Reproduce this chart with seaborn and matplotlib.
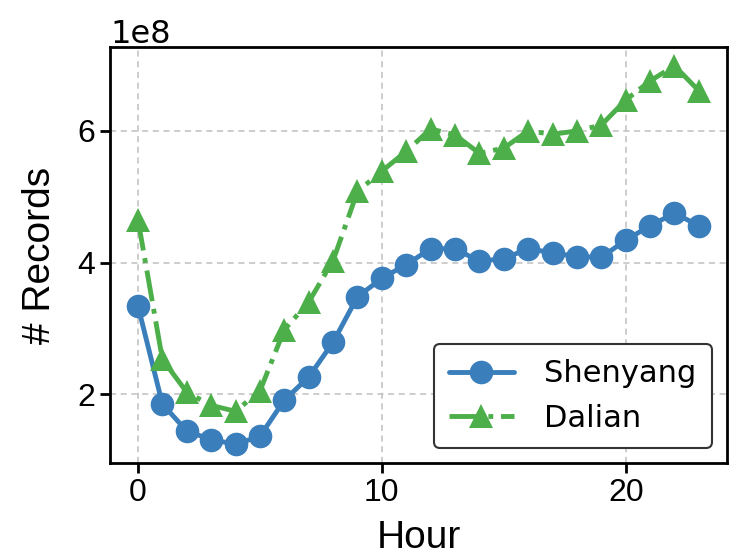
import matplotlib
matplotlib.use("Agg")
import matplotlib.pyplot as plt
import seaborn as sns
import pandas as pd

hours = list(range(24))
shenyang = [3.34, 1.85, 1.44, 1.31, 1.24, 1.36, 1.91, 2.26, 2.79, 3.48, 3.76, 3.97,
            4.21, 4.21, 4.02, 4.06, 4.21, 4.15, 4.09, 4.08, 4.34, 4.56, 4.75, 4.56]
dalian = [4.65, 2.53, 2.03, 1.83, 1.74, 2.05, 2.98, 3.40, 4.03, 5.08, 5.39, 5.69,
          6.03, 5.94, 5.66, 5.74, 6.00, 5.95, 6.00, 6.09, 6.47, 6.76, 6.99, 6.61]
scale = 1e8

df = pd.DataFrame({
    "Hour": hours * 2,
    "Records": [v * scale for v in shenyang] + [v * scale for v in dalian],
    "City": ["Shenyang"] * 24 + ["Dalian"] * 24,
})

sns.set_style("ticks")
plt.rcParams["font.family"] = ["Liberation Sans", "DejaVu Sans"]
plt.rcParams.update({
    "text.color": "black", "axes.labelcolor": "black",
    "xtick.color": "black", "ytick.color": "black",
})

fig = plt.figure(figsize=(7.38, 5.58), dpi=100)
ax = fig.add_axes([0.149, 0.170, 0.836, 0.746])

styles = {
    "Shenyang": dict(color="#3a7ebb", marker="o", linestyle="-", ms=17),
    "Dalian": dict(color="#4daf4a", marker="^", linestyle="-.", ms=17),
}
for city in ["Shenyang", "Dalian"]:
    sub = df[df["City"] == city]
    st = styles[city]
    sns.lineplot(data=sub, x="Hour", y="Records", ax=ax, label=city,
                 color=st["color"], marker=st["marker"],
                 linestyle=st["linestyle"], linewidth=3.5,
                 markersize=st["ms"], markeredgewidth=0)

ax.grid(True, linestyle=(0, (4, 3)), color="#c0c0c0", linewidth=1.1)
ax.set_axisbelow(True)
for s in ax.spines.values():
    s.set_color("black")
    s.set_linewidth(2)
ax.tick_params(axis="both", labelsize=23, width=2, length=7, color="black")
off = ax.yaxis.get_offset_text()
off.set_fontsize(23)
off.set_family("DejaVu Sans")
ax.set_xlabel("Hour", fontsize=28, labelpad=9)
ax.set_ylabel("# Records", fontsize=28, labelpad=14)
ax.set_yticks([2e8, 4e8, 6e8])
ax.set_xticks([0, 10, 20])

leg = ax.legend(loc="lower right", prop={"family": "DejaVu Sans", "size": 22},
                frameon=True, edgecolor="#333333", fancybox=True,
                handlelength=2.1, borderpad=0.5, labelspacing=0.5,
                handletextpad=1.0, borderaxespad=0.5)
leg.get_frame().set_linewidth(1.5)
leg.get_frame().set_alpha(1)

fig.savefig("out.png", dpi=100)
